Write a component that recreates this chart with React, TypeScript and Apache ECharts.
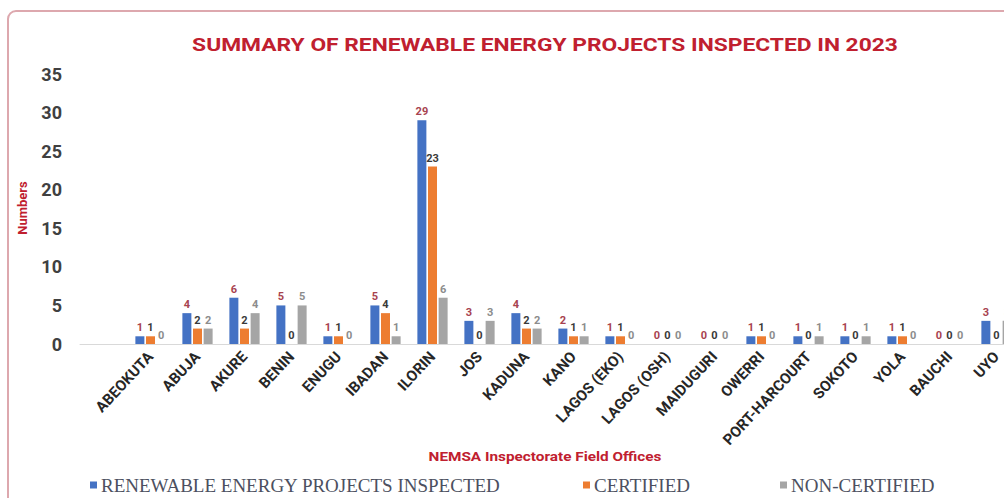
import React, { useEffect, useRef } from "react";
import * as echarts from "echarts";

const categories = ["", "ABEOKUTA", "ABUJA", "AKURE", "BENIN", "ENUGU", "IBADAN", "ILORIN", "JOS", "KADUNA", "KANO", "LAGOS (EKO)", "LAGOS (OSH)", "MAIDUGURI", "OWERRI", "PORT-HARCOURT", "SOKOTO", "YOLA", "BAUCHI", "UYO"];
const inspected = [null, 1, 4, 6, 5, 1, 5, 29, 3, 4, 2, 1, 0, 0, 1, 1, 1, 1, 0, 3];
const certified = [null, 1, 2, 2, 0, 1, 4, 23, 0, 2, 1, 1, 0, 0, 1, 0, 0, 1, 0, 0];
const nonCertified = [null, 0, 2, 4, 5, 0, 1, 6, 3, 2, 1, 0, 0, 0, 0, 1, 1, 0, 0, 3];
const seriesNames = ["RENEWABLE ENERGY PROJECTS INSPECTED", "CERTIFIED", "NON-CERTIFIED"];
const colors = ["#4472C4", "#ED7D31", "#A5A5A5"];
const labelColors = ["#A8434F", "#3A3A3A", "#8C8C8C"];

const sans = "Roboto, 'Liberation Sans', sans-serif";
const serif = "'Liberation Serif', 'Times New Roman', serif";

export default function App() {
  const ref = useRef<HTMLDivElement>(null);
  useEffect(() => {
    const chart = echarts.init(ref.current!, null, { renderer: "svg" });
    const data = [inspected, certified, nonCertified];
    const legendLefts = [90, 583, 780];
    chart.setOption({
      animation: false,
      backgroundColor: "#ffffff",
      legend: seriesNames.map((n, i) => ({
        data: [n],
        left: legendLefts[i],
        top: 475,
        padding: 0,
        icon: "rect",
        itemWidth: 7,
        itemHeight: 7,
        itemGap: 4,
        textStyle: { fontFamily: serif, fontSize: 19, lineHeight: 20, color: "#4C5060", padding: [0, 0, 0, -1] },
      })),
      grid: { left: 80, top: 74, right: 20, bottom: 154 },
      xAxis: {
        type: "category",
        data: categories,
        axisLine: { show: true, lineStyle: { color: "#D9D9D9", width: 1 } },
        axisTick: { show: false },
        axisLabel: {
          rotate: 47,
          interval: 0,
          margin: 10,
          fontFamily: sans,
          fontSize: 15,
          fontWeight: "bold",
          color: "#262626",
        },
      },
      yAxis: {
        type: "value",
        min: 0,
        max: 35,
        interval: 5,
        axisLine: { show: false },
        axisTick: { show: false },
        splitLine: { show: false },
        axisLabel: { margin: 18, fontFamily: sans, fontSize: 18, fontWeight: "bold", color: "#404040" },
      },
      series: data.map((d, i) => ({
        name: seriesNames[i],
        type: "bar",
        data: d,
        barWidth: 9,
        barGap: "18%",
        itemStyle: { color: colors[i] },
        label: {
          show: true,
          position: "top",
          distance: 3,
          fontFamily: sans,
          fontSize: 11,
          fontWeight: "bold",
          color: labelColors[i],
        },
      })),
      graphic: [
        {
          type: "rect",
          shape: { x: 8, y: 11, width: 1100, height: 600, r: 8 },
          style: { fill: "none", stroke: "#DDA8AE", lineWidth: 2 },
          silent: true,
        },
        {
          type: "text",
          x: 545,
          y: 45,
          scaleX: 1.2,
          style: {
            text: "SUMMARY OF RENEWABLE ENERGY PROJECTS INSPECTED IN 2023",
            fill: "#C0202F",
            font: "bold 19px " + sans,
            align: "center",
            verticalAlign: "middle",
          },
        },
        {
          type: "text",
          x: 22,
          y: 208,
          rotation: Math.PI / 2,
          style: {
            text: "Numbers",
            fill: "#C0202F",
            font: "bold 13px " + sans,
            align: "center",
            verticalAlign: "middle",
          },
        },
        {
          type: "text",
          x: 545,
          y: 456,
          scaleX: 1.18,
          style: {
            text: "NEMSA Inspectorate Field Offices",
            fill: "#C0202F",
            font: "bold 13px " + sans,
            align: "center",
            verticalAlign: "middle",
          },
        },
      ],
    });
    return () => chart.dispose();
  }, []);
  return (
    <div style={{ position: "fixed", left: 0, top: 0, width: 1004, height: 498, overflow: "hidden", background: "#fff" }}>
      <div ref={ref} style={{ width: 1040, height: 498 }} />
    </div>
  );
}
